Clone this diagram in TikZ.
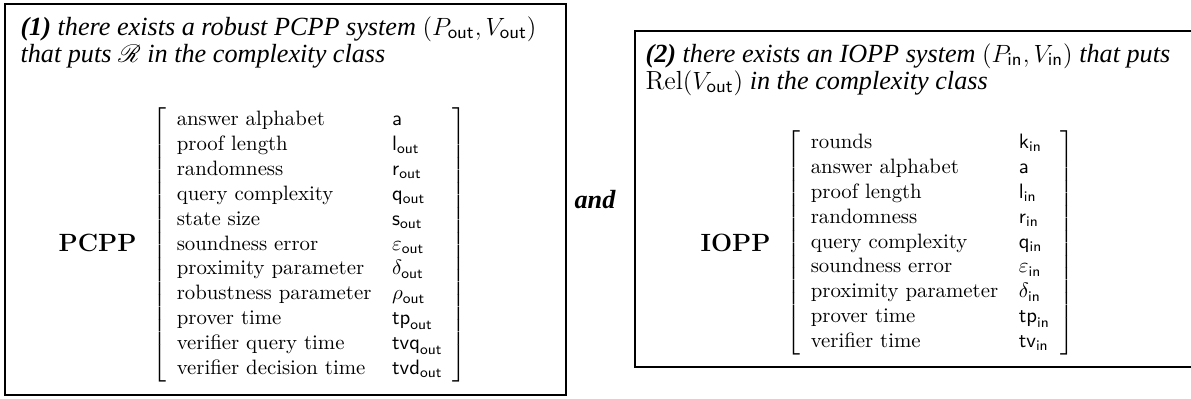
\documentclass[tikz,border=0pt]{standalone}
\usepackage{amsmath}
\usepackage{mathrsfs}
\usepackage{fontspec}
\newfontfamily\timesfont{Liberation Serif}

\tikzset{every picture/.style={line width=0.5pt}}
\newcommand{\headsize}{\fontsize{12.6pt}{15pt}\selectfont}

\begin{document}
\begin{tikzpicture}[x=0.4808pt,y=0.4808pt,yscale=-1,xscale=1]
    \useasboundingbox (0,0) rectangle (1191,398);

    %Shape: Rectangle [id:pcppframe]
    \draw   (5,4) -- (566,4) -- (566,395) -- (5,395) -- cycle ;
    %Shape: Rectangle [id:ioppframe]
    \draw   (635,31) -- (1192,31) -- (1192,367) -- (635,367) -- cycle ;

    % Text Node
    \draw (20,35) node (headonea) [anchor=base west][inner sep=0pt]   {\headsize\timesfont\itshape{\bfseries (1)} there exists a robust PCPP system $(P_{\mathsf{out}},V_{\mathsf{out}})$};
    % Text Node
    \draw (20,62) node (headoneb) [anchor=base west][inner sep=0pt]   {\headsize\timesfont\itshape that puts $\mathscr{R}$ in the complexity class};
    % Text Node
    \draw (137,243) node (pcpplbl) [anchor=east][inner sep=0pt]   {\large\bfseries PCPP};
    % Text Node
    \draw (152,245) node (pcppmat) [anchor=west][inner sep=0pt]   {$\left[\begin{array}{ll}
        \text{answer alphabet} & \mathsf{a}\\
        \text{proof length} & \mathsf{l}_{\mathsf{out}}\\
        \text{randomness} & \mathsf{r}_{\mathsf{out}}\\
        \text{query complexity} & \mathsf{q}_{\mathsf{out}}\\
        \text{state size} & \mathsf{s}_{\mathsf{out}}\\
        \text{soundness error} & \varepsilon_{\mathsf{out}}\\
        \text{proximity parameter} & \delta_{\mathsf{out}}\\
        \text{robustness parameter} & \rho_{\mathsf{out}}\\
        \text{prover time} & \mathsf{tp}_{\mathsf{out}}\\
        \text{verifier query time} & \mathsf{tvq}_{\mathsf{out}}\\
        \text{verifier decision time} & \mathsf{tvd}_{\mathsf{out}}
      \end{array}\right]$};

    % Text Node
    \draw (595,208) node (andword) [anchor=base][inner sep=0pt]   {\headsize\timesfont\bfseries\itshape and};

    % Text Node
    \draw (645,62) node (headtwoa) [anchor=base west][inner sep=0pt]   {\headsize\timesfont\itshape{\bfseries (2)} there exists an IOPP system $(P_{\mathsf{in}},V_{\mathsf{in}})$ that puts};
    % Text Node
    \draw (645,89) node (headtwob) [anchor=base west][inner sep=0pt]   {\headsize\timesfont\itshape $\mathrm{Rel}(V_{\mathsf{out}})$ in the complexity class};
    % Text Node
    \draw (771,243) node (iopplbl) [anchor=east][inner sep=0pt]   {\large\bfseries IOPP};
    % Text Node
    \draw (786,243) node (ioppmat) [anchor=west][inner sep=0pt]   {$\left[\begin{array}{ll}
        \text{rounds} & \mathsf{k}_{\mathsf{in}}\\
        \text{answer alphabet} & \mathsf{a}\\
        \text{proof length} & \mathsf{l}_{\mathsf{in}}\\
        \text{randomness} & \mathsf{r}_{\mathsf{in}}\\
        \text{query complexity} & \mathsf{q}_{\mathsf{in}}\\
        \text{soundness error} & \varepsilon_{\mathsf{in}}\\
        \text{proximity parameter} & \delta_{\mathsf{in}}\\
        \text{prover time} & \mathsf{tp}_{\mathsf{in}}\\
        \text{verifier time} & \mathsf{tv}_{\mathsf{in}}
      \end{array}\right]$};

    \end{tikzpicture}
\end{document}
